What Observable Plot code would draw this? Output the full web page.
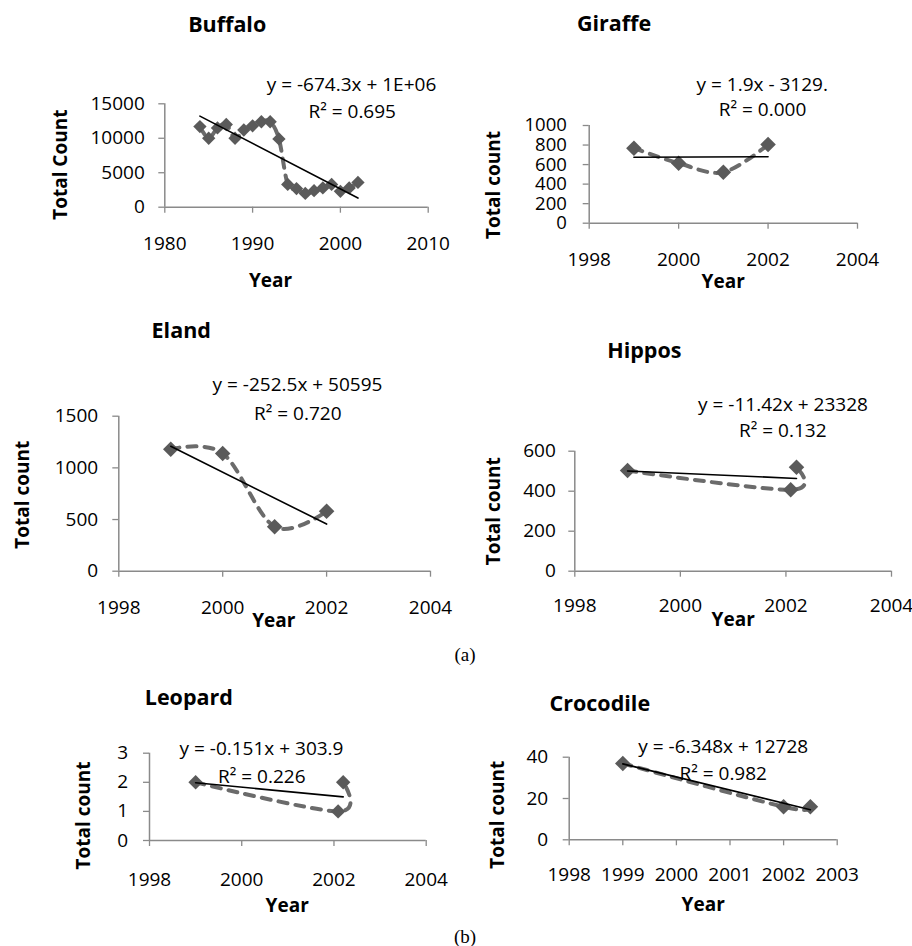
<!DOCTYPE html>
<html>
<head>
<meta charset="utf-8">
<script src="https://cdn.jsdelivr.net/npm/d3@7"></script>
<script src="https://cdn.jsdelivr.net/npm/@observablehq/plot@0.6"></script>
<style>
html, body { margin: 0; padding: 0; background: #fff; }
#fig { position: relative; width: 912px; height: 946px; overflow: hidden; background: #fff; }
.tag { position: absolute; font-family: 'Liberation Serif', 'Times New Roman', serif; font-size: 19px; line-height: 1; color: #000; transform: translateX(-50%); white-space: nowrap; }
</style>
</head>
<body>
<div id="fig"></div>
<script>
// ---------------- data ----------------
const buffaloYears = [1984, 1985, 1986, 1987, 1988, 1989, 1990, 1991, 1992, 1993, 1994, 1995, 1996, 1997, 1998, 1999, 2000, 2001, 2002];
const buffaloCounts = [11700, 10000, 11500, 12000, 10000, 11200, 11800, 12400, 12400, 9900, 3300, 2700, 2000, 2400, 2800, 3300, 2300, 2800, 3600];
const giraffeYears = [1999, 2000, 2001, 2002];
const giraffeCounts = [768, 614, 522, 805];
const elandYears = [1999, 2000, 2001, 2002];
const elandCounts = [1180, 1140, 430, 580];
const hipposYears = [1999, 2002.09, 2002.2];
const hipposCounts = [503, 407, 520];
const leopardYears = [1999, 2002.09, 2002.2];
const leopardCounts = [2, 1, 2];
const crocodileYears = [1999, 2002, 2002.5];
const crocodileCounts = [37, 16, 16];

const titles = ["Buffalo", "Giraffe", "Eland", "Hippos", "Leopard", "Crocodile"];
const equations = ["y = -674.3x + 1E+06", "y = 1.9x - 3129.", "y = -252.5x + 50595", "y = -11.42x + 23328", "y = -0.151x + 303.9", "y = -6.348x + 12728"];
const rSquared = ["R² = 0.695", "R² = 0.000", "R² = 0.720", "R² = 0.132", "R² = 0.226", "R² = 0.982"];
const yLabels = ["Total Count", "Total count", "Total count", "Total count", "Total count", "Total count"];
const xLabel = "Year";

const xTicksBuffalo = [1980, 1990, 2000, 2010];
const xTicksSpan = [1998, 2000, 2002, 2004];
const xTicksCrocodile = [1998, 1999, 2000, 2001, 2002, 2003];
const yTicksBuffalo = [0, 5000, 10000, 15000];
const yTicksGiraffe = [0, 200, 400, 600, 800, 1000];
const yTicksEland = [0, 500, 1000, 1500];
const yTicksHippos = [0, 200, 400, 600];
const yTicksLeopard = [0, 1, 2, 3];
const yTicksCrocodile = [0, 20, 40];
const subfigureTags = ["(a)", "(b)"];

// ---------------- layout & style (page pixels) ----------------
const FONT = "'Open Sans', 'DejaVu Sans', sans-serif";
const AXIS = "#8a8a8a";
const DASH = "#6b6b6b";
const MARK = "#5a5a5a";

const layout = [
  {box: [0, 0, 456, 300],     frame: [164.3, 427.7, 103.3, 206.7], r: 6, xPad: 23, yPad: 14, yFont: 19,
   title: [226.7, 31.7], eq: [351, 90.7], r2: [351.7, 117], xl: [270, 286.7], yl: [60.5, 164.2]},
  {box: [456, 0, 456, 300],   frame: [588.7, 857, 125, 222.7], r: 7, xPad: 22.8, yPad: 16.4, yFont: 18.5,
   title: [613.5, 30.7], eq: [761.7, 90.7], r2: [762, 115.7], xl: [722.7, 287.3], yl: [493.5, 184.5]},
  {box: [0, 300, 456, 340],   frame: [118.3, 430, 415.7, 570.7], r: 7, xPad: 23.1, yPad: 14.6, yFont: 19,
   title: [180.7, 337.3], eq: [297, 390.7], r2: [297.3, 419], xl: [273.3, 626.7], yl: [22.5, 494.2]},
  {box: [456, 300, 456, 340], frame: [574.3, 891, 450.7, 570.7], r: 7, xPad: 21.5, yPad: 13, yFont: 19,
   title: [643.8, 357.3], eq: [782.5, 410], r2: [782.3, 436.7], xl: [732.7, 625], yl: [493.5, 510.8]},
  {box: [0, 665, 456, 260],   frame: [149, 425.7, 752.7, 840], r: 6.5, xPad: 25.5, yPad: 15.3, yFont: 19,
   title: [188.3, 704], eq: [261, 754], r2: [261.3, 782.7], xl: [286.7, 911.7], yl: [83.8, 815]},
  {box: [456, 665, 456, 260], frame: [568.7, 836.7, 756.7, 839.3], r: 7, xPad: 21.9, yPad: 15, yFont: 19,
   title: [599.3, 710.7], eq: [722.7, 752.7], r2: [722.7, 779], xl: [702.7, 910], yl: [497.8, 814.2]}
];
const tagPos = [[465, 645], [465, 927]];

const fig = document.getElementById("fig");

function makePanel(i, years, counts, xTicks, yTicks) {
  const L = layout[i];
  const [bl, bt, bw, bh] = L.box;
  const [x0, x1, yt, yb] = L.frame;
  const data = years.map((x, k) => ({year: x, count: counts[k]}));
  const rel = ([px, py]) => ({dx: px - x0, dy: py - yt});
  const label = (s, p, o) => Plot.text([s], {
    text: d => d, frameAnchor: "top-left", ...rel(p),
    textAnchor: "middle", lineAnchor: "bottom", fill: "#000", ...o
  });
  const svg = Plot.plot({
    width: bw,
    height: bh,
    marginLeft: x0 - bl,
    marginRight: bl + bw - x1,
    marginTop: yt - bt,
    marginBottom: bt + bh - yb,
    style: {background: "transparent", overflow: "visible", fontFamily: FONT},
    x: {domain: [xTicks[0], xTicks[xTicks.length - 1]]},
    y: {domain: [yTicks[0], yTicks[yTicks.length - 1]]},
    marks: [
      Plot.axisX({ticks: xTicks, tickFormat: "d", tickSize: 6, tickPadding: L.xPad,
                  stroke: AXIS, strokeWidth: 1.3, fill: "#000", fontSize: 19, label: null}),
      Plot.axisY({ticks: yTicks, tickFormat: "d", tickSize: 6, tickPadding: L.yPad,
                  stroke: AXIS, strokeWidth: 1.3, fill: "#000", fontSize: L.yFont, label: null}),
      Plot.ruleY([yTicks[0]], {stroke: AXIS, strokeWidth: 1.5}),
      Plot.ruleX([xTicks[0]], {stroke: AXIS, strokeWidth: 1.5}),
      Plot.line(data, {x: "year", y: "count", curve: "cardinal", tension: 0, stroke: DASH,
                       strokeWidth: 4, strokeDasharray: "9,8", strokeLinecap: "round"}),
      Plot.dot(data, {x: "year", y: "count", symbol: "diamond2", r: L.r, fill: MARK, stroke: "none"}),
      Plot.linearRegressionY(data, {x: "year", y: "count", ci: 0, stroke: "#000", strokeWidth: 1.6}),
      label(titles[i], L.title, {fontSize: 21.5, fontWeight: "bold"}),
      label(equations[i], L.eq, {fontSize: 19}),
      label(rSquared[i], L.r2, {fontSize: 19}),
      label(xLabel, L.xl, {fontSize: 19, fontWeight: "bold"}),
      Plot.text([yLabels[i]], {text: d => d, frameAnchor: "top-left", ...rel(L.yl), rotate: -90,
                               textAnchor: "middle", lineAnchor: "middle", fill: "#000",
                               fontSize: 19, fontWeight: "bold"})
    ]
  });
  svg.style.position = "absolute";
  svg.style.left = bl + "px";
  svg.style.top = bt + "px";
  svg.style.maxWidth = "none";
  fig.appendChild(svg);
}

makePanel(0, buffaloYears, buffaloCounts, xTicksBuffalo, yTicksBuffalo);
makePanel(1, giraffeYears, giraffeCounts, xTicksSpan, yTicksGiraffe);
makePanel(2, elandYears, elandCounts, xTicksSpan, yTicksEland);
makePanel(3, hipposYears, hipposCounts, xTicksSpan, yTicksHippos);
makePanel(4, leopardYears, leopardCounts, xTicksSpan, yTicksLeopard);
makePanel(5, crocodileYears, crocodileCounts, xTicksCrocodile, yTicksCrocodile);

subfigureTags.forEach((t, k) => {
  const d = document.createElement("div");
  d.className = "tag";
  d.textContent = t;
  d.style.left = tagPos[k][0] + "px";
  d.style.top = tagPos[k][1] + "px";
  fig.appendChild(d);
});
</script>
</body>
</html>
